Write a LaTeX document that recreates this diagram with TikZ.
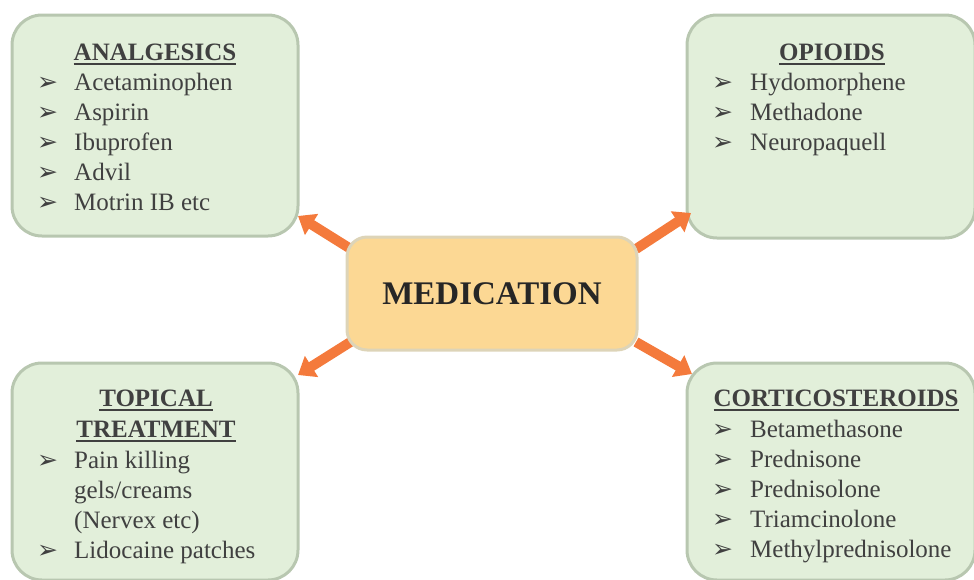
\documentclass[tikz,border=0pt]{standalone}
\usepackage{fontspec}
\setmainfont{Liberation Serif}
\newfontfamily\dingfont{DejaVu Sans}
\usetikzlibrary{arrows.meta}
\definecolor{boxfill}{HTML}{E2EFDA}
\definecolor{boxline}{HTML}{B8C7B0}
\definecolor{medfill}{HTML}{FCD894}
\definecolor{medline}{HTML}{DDD4B8}
\definecolor{arrowc}{HTML}{F47A3C}
\definecolor{txt}{HTML}{404040}
\definecolor{medtxt}{HTML}{262626}
\newcommand\ulin[1]{\setbox0=\hbox{#1}\rlap{\rule[-4.5pt]{\wd0}{1.6pt}}\box0}
\newcommand\bul{{\dingfont\fontsize{25}{25}\selectfont ➢}}
\begin{document}
\begin{tikzpicture}[x=1pt,y=-1pt,
  greenbox/.style={draw=boxline, fill=boxfill, line width=3pt, rounded corners=30pt, inner sep=0pt},
  medbox/.style={draw=medline, fill=medfill, line width=3pt, rounded corners=20pt, inner sep=0pt,
    text=medtxt, font=\fontsize{33}{36}\selectfont\bfseries},
  listtext/.style={text=txt, inner sep=0pt, anchor=base west, font=\fontsize{25}{30}\selectfont},
  titletext/.style={text=txt, inner sep=0pt, anchor=base, font=\fontsize{25}{31}\selectfont\bfseries, align=center},
  bigarrow/.style={draw=arrowc, line width=10pt, -{Triangle[width=24pt,length=16pt]}}
]
\useasboundingbox (0,0) rectangle (974,579);
% boxes
\node[greenbox, minimum width=286pt, minimum height=221pt] (A) at (155,125.5) {};
\node[greenbox, minimum width=288pt, minimum height=223pt] (O) at (831,126.5) {};
\node[greenbox, minimum width=286pt, minimum height=217pt] (T) at (155,471.5) {};
\node[greenbox, minimum width=288pt, minimum height=217pt] (C) at (831,471.5) {};
% arrows
\coordinate (m1) at (354,251);
\coordinate (a1) at (298,216);
\coordinate (m2) at (636,249);
\coordinate (a2) at (691,213);
\coordinate (m3) at (352,341);
\coordinate (a3) at (298,375);
\coordinate (m4) at (636,342);
\coordinate (a4) at (692,374);
\draw[bigarrow] (m1) -- (a1);
\draw[bigarrow] (m2) -- (a2);
\draw[bigarrow] (m3) -- (a3);
\draw[bigarrow] (m4) -- (a4);
% centre
\node[medbox, minimum width=290pt, minimum height=113pt] (M) at (492,293.5) {MEDICATION};
% analgesics
\node[titletext] (At) at (155,60) {\ulin{ANALGESICS}};
\node[listtext] (Al) at (37,90) {\begin{tabular}[t]{@{}p{37pt}@{}l@{}}
\bul & Acetaminophen\\
\bul & Aspirin\\
\bul & Ibuprofen\\
\bul & Advil\\
\bul & Motrin IB etc
\end{tabular}};
% opioids
\node[titletext] (Ot) at (832,60) {\ulin{OPIOIDS}};
\node[listtext] (Ol) at (712,90) {\begin{tabular}[t]{@{}p{38pt}@{}l@{}}
\bul & Hydomorphene\\
\bul & Methadone\\
\bul & Neuropaquell
\end{tabular}};
% topical
\node[titletext] (Tt) at (156,437.5) {\ulin{TOPICAL}\\\ulin{TREATMENT}};
\node[listtext] (Tl) at (37,468) {\begin{tabular}[t]{@{}p{37pt}@{}l@{}}
\bul & Pain killing\\
 & gels/creams\\
 & (Nervex etc)\\
\bul & Lidocaine patches
\end{tabular}};
% corticosteroids
\node[titletext] (Ct) at (836,406) {\ulin{CORTICOSTEROIDS}};
\node[listtext] (Cl) at (712,437) {\begin{tabular}[t]{@{}p{38pt}@{}l@{}}
\bul & Betamethasone\\
\bul & Prednisone\\
\bul & Prednisolone\\
\bul & Triamcinolone\\
\bul & Methylprednisolone
\end{tabular}};
\end{tikzpicture}
\end{document}
